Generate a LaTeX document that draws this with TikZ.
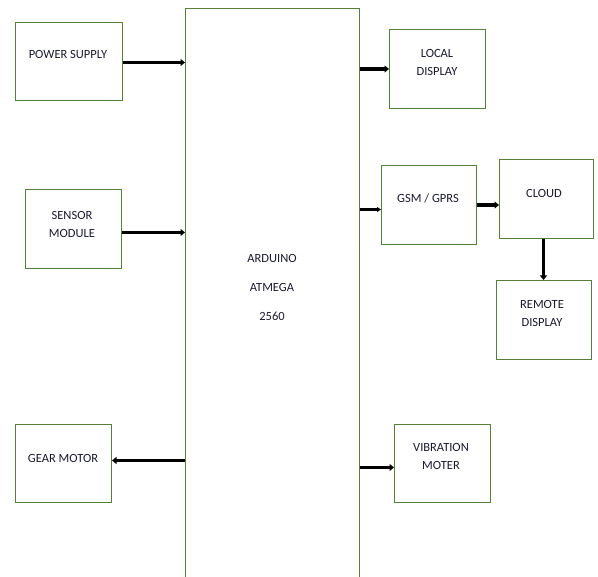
\documentclass[tikz,border=0pt]{standalone}
\usepackage{fontspec}
\setmainfont{Carlito}
\usetikzlibrary{arrows.meta}
\definecolor{boxgreen}{RGB}{84,130,53}
\definecolor{txt}{RGB}{25,25,45}
\begin{document}
\begin{tikzpicture}[x=1pt,y=-1pt,
  blk/.style={draw=boxgreen,line width=1pt,inner sep=0pt,anchor=north west},
  lbl/.style={font=\fontsize{12.5}{18}\selectfont,align=center,inner sep=0pt,text=txt},
  arr/.style={line width=3.8pt,-{Triangle[length=4.5pt,width=7pt]}},
  arrthin/.style={line width=2.2pt,-{Triangle[length=4pt,width=5pt]}}]
\useasboundingbox (0,0) rectangle (598,577);
\clip (0,0) rectangle (598,577);
% boxes
\node[blk,minimum width=107pt,minimum height=78pt] (ps) at (15,22) {};
\node[blk,minimum width=96pt,minimum height=79pt] (sm) at (25,189) {};
\node[blk,minimum width=96pt,minimum height=78pt] (gm) at (15,424) {};
\node[blk,minimum width=174pt,minimum height=600pt] (ard) at (185,8) {};
\node[blk,minimum width=96pt,minimum height=79pt] (ld) at (389,29) {};
\node[blk,minimum width=95pt,minimum height=79pt] (gsm) at (381,165) {};
\node[blk,minimum width=94pt,minimum height=79pt] (cloud) at (499,159) {};
\node[blk,minimum width=95pt,minimum height=79pt] (rd) at (496,280) {};
\node[blk,minimum width=96pt,minimum height=78pt] (vm) at (394,424) {};
% labels
\node[lbl] (tps) at (68,54) {POWER SUPPLY};
\node[lbl] (tsm) at (72,224) {SENSOR\\MODULE};
\node[lbl] (tgm) at (63,458) {GEAR MOTOR};
\node[lbl] (tard) at (272,287) {ARDUINO\\[11pt]ATMEGA\\[11pt]2560};
\node[lbl] (tld) at (437,62) {LOCAL\\DISPLAY};
\node[lbl] (tgsm) at (428,198) {GSM / GPRS};
\node[lbl] (tcloud) at (544,193) {CLOUD};
\node[lbl] (trd) at (542,313) {REMOTE\\DISPLAY};
\node[lbl] (tvm) at (441,456) {VIBRATION\\MOTER};
% connectors
\draw[arr] ([yshift=-1pt]ps.east) -- ([yshift=-1pt]ps.east -| ard.west);
\draw[arr] ([yshift=-3.5pt]sm.east) -- ([yshift=-3.5pt]sm.east -| ard.west);
\draw[arr] ([yshift=3pt]gm.east -| ard.west) -- ([yshift=3pt]gm.east);
\draw[arr] (ld.west -| ard.east) -- (ld.west);
\draw[arrthin] ([yshift=-4.5pt]gsm.west -| ard.east) -- ([yshift=-4.5pt]gsm.west);
\draw[arr] (gsm.east) -- (gsm.east -| cloud.west);
\draw[arr] ([xshift=-3pt]cloud.south) -- ([xshift=-3pt]cloud.south |- rd.north);
\draw[arr] ([yshift=-4pt]vm.west -| ard.east) -- ([yshift=-4pt]vm.west);
\end{tikzpicture}
\end{document}
